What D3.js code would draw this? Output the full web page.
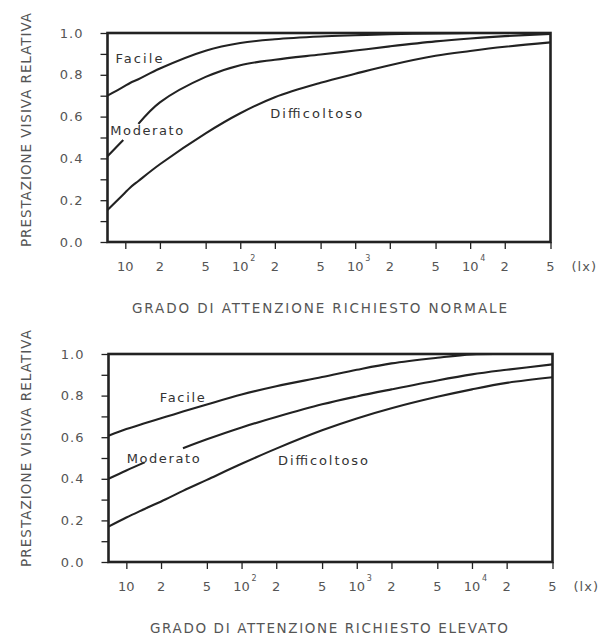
<!DOCTYPE html>
<html>
<head>
<meta charset="utf-8">
<script src="https://cdn.jsdelivr.net/npm/d3@7"></script>
<style>
  body { margin: 0; background: #fff; }
  svg { display: block; font-family: "DejaVu Sans", sans-serif; }
</style>
</head>
<body>
<svg id="chart"></svg>
<script>
// values (null = gap left open for the label)
const luxNormale = [7, 9.6, 11, 13, 20, 50, 100, 200, 500, 1000, 2000, 5000, 10000, 20000, 50000]
const facileNormale = [0.70, 0.742, 0.761, 0.779, 0.83, 0.915, 0.952, 0.97, 0.983, 0.989, 0.994, 0.998, 1.0, 1.0, 1.0]
const moderatoNormale = [0.41, 0.488, null, 0.565, 0.668, 0.79, 0.846, 0.872, 0.897, 0.916, 0.936, 0.96, 0.974, 0.985, 0.996]
const difficoltosoNormale = [0.153, 0.227, 0.26, 0.292, 0.372, 0.52, 0.616, 0.693, 0.762, 0.805, 0.846, 0.891, 0.914, 0.934, 0.955]

const luxElevato = [7, 10, 14.4, 22, 31, 50, 100, 200, 500, 1000, 2000, 5000, 10000, 20000, 50000]
const facileElevato = [0.607, 0.639, 0.667, 0.698, 0.723, 0.757, 0.805, 0.845, 0.889, 0.924, 0.955, 0.982, 0.998, 1.0, 1.0]
const moderatoElevato = [0.40, 0.44, 0.479, null, 0.547, 0.59, 0.647, 0.697, 0.758, 0.796, 0.83, 0.873, 0.902, 0.924, 0.95]
const difficoltosoElevato = [0.17, 0.214, 0.255, 0.302, 0.342, 0.395, 0.472, 0.545, 0.633, 0.69, 0.739, 0.794, 0.83, 0.861, 0.888]

const curveNames = ['Facile', 'Moderato', 'Difficoltoso']

const xTicks = [10, 20, 50, 100, 200, 500, 1000, 2000, 5000, 10000, 20000, 50000]
const xTickLabels = ['10', '2', '5', '10', '2', '5', '10', '2', '5', '10', '2', '5']
const xTickExponents = ['', '', '', '2', '', '', '3', '', '', '4', '', '']
const xUnit = '(lx)'

const yTicks = [0, 0.1, 0.2, 0.3, 0.4, 0.5, 0.6, 0.7, 0.8, 0.9, 1.0]
const yTickLabels = ['0.0', '', '0.2', '', '0.4', '', '0.6', '', '0.8', '', '1.0']

const yTitle = 'PRESTAZIONE VISIVA RELATIVA'
const xTitles = ['GRADO DI ATTENZIONE RICHIESTO NORMALE', 'GRADO DI ATTENZIONE RICHIESTO ELEVATO']


const width = 609
const height = 641

// layout of the two panels
const panels = [
    {
        lux: luxNormale, series: [facileNormale, moderatoNormale, difficoltosoNormale], title: xTitles[0],
        left: 107.5, right: 550.5, top: 33, bottom: 242,
        labelAt: [[8.2, 0.856, 47], [7.4, 0.512, 73], [182, 0.593, 92]],
        titleX: 319.5, titleY: 313, titleLen: 375, yTitleY: 130, yTitleLen: 234
    },
    {
        lux: luxElevato, series: [facileElevato, moderatoElevato, difficoltosoElevato], title: xTitles[1],
        left: 108.5, right: 552.5, top: 354, bottom: 562,
        labelAt: [[19.5, 0.769, 45], [10.06, 0.476, 73], [207, 0.466, 90]],
        titleX: 329, titleY: 633, titleLen: 358, yTitleY: 448.5, yTitleLen: 237
    }
]

const ink = '#222'
const grey = '#555'

const svg = d3.select('#chart')
    .attr('width', width)
    .attr('height', height)
    .attr('viewBox', `0 0 ${width} ${height}`)
    .style('background', '#fff')


panels.forEach(p => {
    const x = d3.scaleLog().domain([7, 50000]).range([p.left, p.right])
    const y = d3.scaleLinear().domain([0, 1]).range([p.bottom, p.top])
    const g = svg.append('g')

// y axis, ticks every 0.1
    g.append('g')
        .attr('transform', `translate(${p.left},0)`)
        .call(d3.axisLeft(y).tickValues(yTicks).tickSize(7).tickPadding(17)
            .tickFormat((d, i) => yTickLabels[i]))
        .call(a => a.select('.domain').remove())
        .call(a => a.selectAll('line').attr('stroke', ink).attr('stroke-width', 1.3))
        .call(a => a.selectAll('text')
            .attr('fill', grey)
            .style('font-size', '13px')
            .style('letter-spacing', '1px')
            .style('font-family', '"DejaVu Sans", sans-serif'))

// x axis, log scale
    g.append('g')
        .attr('transform', `translate(0,${p.bottom})`)
        .call(d3.axisBottom(x).tickValues(xTicks).tickSize(7).tickFormat(''))
        .call(a => a.select('.domain').remove())
        .call(a => a.selectAll('line').attr('stroke', ink).attr('stroke-width', 1.3))

    g.selectAll()
        .data(xTicks)
        .join('text')
            .attr('x', d => x(d))
            .attr('y', p.bottom + 29)
            .attr('text-anchor', 'middle')
            .attr('fill', grey)
            .style('font-size', '13px')
            .text((d, i) => xTickLabels[i])

    g.selectAll()
        .data(xTicks.filter((d, i) => xTickExponents[i]))
        .join('text')
            .attr('x', d => x(d) + 10)
            .attr('y', p.bottom + 19)
            .attr('fill', grey)
            .style('font-size', '8px')
            .text(d => xTickExponents[xTicks.indexOf(d)])

    g.append('text')
        .attr('x', p.right + 21)
        .attr('y', p.bottom + 29)
        .attr('fill', grey)
        .style('font-size', '13px')
        .style('letter-spacing', '1px')
        .text(xUnit)

// axis titles
    g.append('text')
        .attr('x', p.titleX)
        .attr('y', p.titleY)
        .attr('text-anchor', 'middle')
        .attr('fill', grey)
        .attr('textLength', p.titleLen)
        .attr('lengthAdjust', 'spacing')
        .style('font-size', '13.5px')
        .text(p.title)

    g.append('text')
        .attr('transform', `translate(30.5,${p.yTitleY}) rotate(-90)`)
        .attr('text-anchor', 'middle')
        .attr('fill', grey)
        .attr('textLength', p.yTitleLen)
        .attr('lengthAdjust', 'spacing')
        .style('font-size', '13.5px')
        .text(yTitle)

// curves
    const line = d3.line()
        .defined(d => d[1] != null)
        .x(d => x(d[0]))
        .y(d => y(d[1]))
        .curve(d3.curveCatmullRom.alpha(0.5))

    g.selectAll()
        .data(p.series)
        .join('path')
            .attr('d', s => line(p.lux.map((l, i) => [l, s[i]])))
            .attr('fill', 'none')
            .attr('stroke', ink)
            .attr('stroke-width', 2.1)

    g.selectAll()
        .data(curveNames)
        .join('text')
            .attr('x', (d, i) => x(p.labelAt[i][0]))
            .attr('y', (d, i) => y(p.labelAt[i][1]))
            .attr('textLength', (d, i) => p.labelAt[i][2])
            .attr('lengthAdjust', 'spacing')
            .attr('fill', '#333')
            .style('font-size', '13px')
            .text(d => d)

// frame
    g.append('rect')
        .attr('x', p.left)
        .attr('y', p.top)
        .attr('width', p.right - p.left)
        .attr('height', p.bottom - p.top)
        .attr('fill', 'none')
        .attr('stroke', ink)
        .attr('stroke-width', 2.6)
})
</script>
</body>
</html>
